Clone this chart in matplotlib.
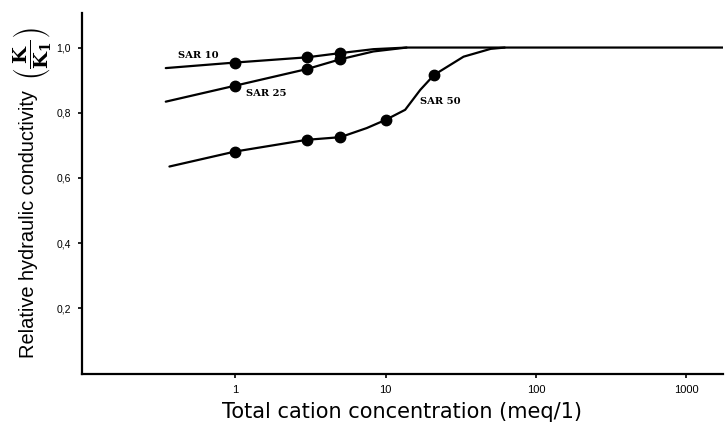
import matplotlib
matplotlib.use("Agg")
import matplotlib.pyplot as plt
from matplotlib.ticker import FixedLocator, NullLocator

plt.rcParams["mathtext.fontset"] = "dejavuserif"

# Data (x: total cation concentration, meq/l, log scale)
sar10_curve_x = [0.346, 1, 3, 5, 8.3, 13.8, 1750]
sar10_curve_y = [0.937, 0.954, 0.970, 0.983, 0.995, 1.0, 1.0]
sar10_pts_x = [1, 3, 5]
sar10_pts_y = [0.954, 0.970, 0.983]

sar25_curve_x = [0.346, 1, 3, 5, 8.3, 13.8]
sar25_curve_y = [0.834, 0.883, 0.934, 0.964, 0.988, 1.0]
sar25_pts_x = [1, 3, 5]
sar25_pts_y = [0.883, 0.934, 0.964]

sar50_curve_x = [0.366, 1, 3, 5, 7.5, 10, 13.5, 17, 21, 33, 50, 62]
sar50_curve_y = [0.635, 0.681, 0.717, 0.725, 0.753, 0.778, 0.809, 0.870, 0.916, 0.972, 0.996, 1.0]
sar50_pts_x = [1, 3, 5, 10, 21]
sar50_pts_y = [0.681, 0.717, 0.725, 0.778, 0.916]

xticks = [1, 10, 100, 1000]
xticklabels = ["1", "10", "100", "1000"]
yticks = [0.2, 0.4, 0.6, 0.8, 1.0]
yticklabels = ["0,2", "0,4", "0,6", "0,8", "1,0"]

labels = ["SAR 10", "SAR 25", "SAR 50"]

fig = plt.figure(figsize=(7.25, 4.23), dpi=100)
ax = fig.add_axes([82/725, 1-373.5/423, (723-82)/725, (373.5-13)/423])

for cx, cy, px, py in [(sar10_curve_x, sar10_curve_y, sar10_pts_x, sar10_pts_y),
                       (sar25_curve_x, sar25_curve_y, sar25_pts_x, sar25_pts_y),
                       (sar50_curve_x, sar50_curve_y, sar50_pts_x, sar50_pts_y)]:
    ax.plot(cx, cy, color="black", lw=1.6, solid_capstyle="round", solid_joinstyle="round")
    ax.plot(px, py, "o", color="black", ms=7.5)

ax.set_xscale("log")
ax.set_xlim(0.096, 1750)
ax.set_ylim(0, 1.106)

ax.xaxis.set_major_locator(FixedLocator(xticks))
ax.set_xticklabels(xticklabels, fontsize=8, family="Liberation Sans")
ax.xaxis.set_minor_locator(NullLocator())
ax.set_yticks(yticks)
ax.set_yticklabels(yticklabels, fontsize=7.5, family="Liberation Sans")

for s in ["top", "right"]:
    ax.spines[s].set_visible(False)
for s in ["left", "bottom"]:
    ax.spines[s].set_linewidth(1.6)
ax.tick_params(axis="both", direction="out", length=3, width=1.2, pad=5)

ax.set_xlabel("Total cation concentration (meq/1)", fontsize=15,
              family="DejaVu Sans", labelpad=5)

# y-axis label: text plus the (K/K1) fraction
fig.text(29/725, 1 - 358/423, "Relative hydraulic conductivity", rotation=90,
         fontsize=14.4, family="Liberation Sans", ha="center", va="bottom")
fig.text(32/725, 1 - 54/423, r"$\left(\dfrac{\mathbf{K}}{\mathbf{K_1}}\right)$",
         rotation=90, fontsize=14, ha="center", va="center")

tfont = dict(fontsize=7.2, family="DejaVu Serif", fontweight="bold", va="center")
ax.text(0.415, 0.977, labels[0], ha="left", **tfont)
ax.text(1.18, 0.858, labels[1], ha="left", **tfont)
ax.text(16.9, 0.836, labels[2], ha="left", **tfont)

fig.savefig("out.png", dpi=100)
